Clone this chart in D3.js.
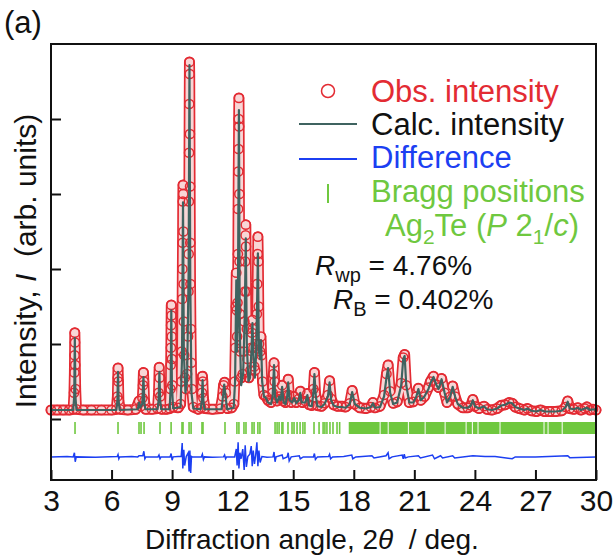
<!DOCTYPE html>
<html><head><meta charset="utf-8">
<script src="https://cdn.jsdelivr.net/npm/d3@7"></script>
<style>
html,body{margin:0;padding:0;background:#fff;}
svg text{font-family:"Liberation Sans",Arial,Helvetica,sans-serif;}
</style></head>
<body><svg id="c" width="614" height="560"></svg>
<script>
// x ticks (2θ, deg) and y ticks (arb. units, unlabeled)
const xTicks = [3, 6, 9, 12, 15, 18, 21, 24, 27, 30];
const yTicks = [0, 1, 2, 3, 4];

// Calculated profile [2θ, I]
const calc = [[3.0,0.12],[4.10,0.12],[4.15,0.30],[4.18,1.08],[4.21,0.30],[4.26,0.12],
[6.24,0.12],[6.29,0.25],[6.32,0.63],[6.35,0.25],[6.40,0.12],
[7.30,0.13],[7.36,0.22],[7.42,0.15],[7.52,0.2],[7.58,0.56],[7.63,0.2],[7.68,0.13],
[8.28,0.13],[8.33,0.25],[8.37,0.63],[8.41,0.25],[8.46,0.13],
[8.88,0.13],[8.93,0.45],[8.96,1.45],[8.99,0.45],[9.05,0.14],
[9.42,0.16],[9.49,0.8],[9.54,2.89],[9.58,0.9],[9.66,0.35],[9.74,0.5],[9.82,2.0],[9.86,4.72],[9.90,1.8],[9.96,0.35],[10.05,0.14],
[10.42,0.13],[10.47,0.25],[10.51,0.52],[10.55,0.25],[10.60,0.13],
[11.45,0.13],[11.52,0.3],[11.58,0.46],[11.65,0.30],[11.72,0.13],
[12.05,0.15],[12.12,0.5],[12.18,1.85],[12.22,0.9],[12.26,1.6],[12.31,4.12],[12.35,1.2],[12.42,0.45],[12.52,0.6],[12.6,1.4],[12.65,2.41],[12.70,1.0],[12.78,0.5],[12.86,0.55],[12.93,0.9],[12.98,1.28],[13.03,0.85],[13.1,0.55],[13.17,0.9],[13.25,2.21],[13.30,0.9],[13.36,0.8],[13.41,1.05],[13.46,0.5],[13.55,0.3],[13.65,0.28],[13.75,0.22],[13.9,0.2],
[13.98,0.3],[14.05,0.72],[14.1,0.3],[14.2,0.22],[14.3,0.3],[14.38,0.25],[14.45,0.43],[14.52,0.22],[14.62,0.2],[14.7,0.3],[14.75,0.49],[14.82,0.25],[14.95,0.22],[15.05,0.28],[15.15,0.21],[15.28,0.25],[15.35,0.35],[15.42,0.22],[15.6,0.22],[15.7,0.32],[15.78,0.18],[15.92,0.17],[16.0,0.35],[16.05,0.6],[16.12,0.3],[16.2,0.17],[16.4,0.16],[16.55,0.2],[16.72,0.3],[16.8,0.49],[16.88,0.25],[17.0,0.18],[17.2,0.16],[17.4,0.16],[17.6,0.15],[17.8,0.2],[17.92,0.36],[18.05,0.2],[18.3,0.15],[18.6,0.14],[18.85,0.16],[18.95,0.21],[19.05,0.15],[19.3,0.16],[19.5,0.3],[19.62,0.55],[19.7,0.68],[19.8,0.35],[19.95,0.2],[20.15,0.22],[20.35,0.45],[20.45,0.8],[20.52,0.84],[20.6,0.45],[20.75,0.22],[20.95,0.22],[21.1,0.3],[21.2,0.40],[21.32,0.25],[21.5,0.3],[21.7,0.4],[21.8,0.48],[21.95,0.56],[22.1,0.45],[22.2,0.40],[22.35,0.53],[22.5,0.35],[22.62,0.22],[22.78,0.3],[22.9,0.43],[23.02,0.3],[23.15,0.2],[23.4,0.15],[23.65,0.15],[23.8,0.18],[23.9,0.25],[24.0,0.17],[24.2,0.14],[24.45,0.17],[24.6,0.13],[24.85,0.12],[25.1,0.14],[25.3,0.18],[25.5,0.19],[25.7,0.22],[25.85,0.21],[26.0,0.16],[26.2,0.14],[26.45,0.12],[26.6,0.14],[26.8,0.11],[27.05,0.1],[27.25,0.12],[27.45,0.1],[27.7,0.1],[28.0,0.1],[28.3,0.11],[28.5,0.16],[28.6,0.23],[28.7,0.14],[28.9,0.13],[29.1,0.15],[29.25,0.12],[29.45,0.14],[29.55,0.15],[29.7,0.12],[29.85,0.13],[30.0,0.12]];

// Observed points [2θ, I]
const obs = [[3.0,0.12],[3.3,0.12],[3.6,0.12],[3.9,0.12],[4.10,0.13],[4.14,0.35],[4.16,0.62],[4.17,0.85],[4.18,1.15],[4.19,1.02],[4.20,0.72],[4.22,0.4],[4.26,0.13],[4.6,0.12],[5.0,0.12],[5.5,0.12],[6.0,0.12],[6.24,0.13],[6.29,0.3],[6.31,0.55],[6.32,0.68],[6.34,0.5],[6.36,0.25],[6.42,0.13],[6.8,0.12],[7.2,0.13],[7.36,0.24],[7.45,0.17],[7.53,0.28],[7.56,0.45],[7.58,0.62],[7.60,0.5],[7.63,0.24],[7.7,0.13],[8.0,0.13],[8.28,0.14],[8.33,0.35],[8.36,0.69],[8.38,0.55],[8.41,0.3],[8.47,0.13],[8.7,0.13],[8.88,0.14],[8.92,0.4],[8.93,0.72],[8.94,0.95],[8.95,1.25],[8.96,1.52],[8.97,1.38],[8.98,1.1],[8.99,0.8],[9.01,0.45],[9.05,0.16],[9.3,0.15],[9.42,0.2],[9.46,0.5],[9.48,0.9],[9.5,1.6],[9.51,2.0],[9.52,2.35],[9.53,2.9],[9.54,3.12],[9.55,3.0],[9.56,2.5],[9.57,1.8],[9.58,1.3],[9.6,0.85],[9.63,0.55],[9.68,0.4],[9.74,0.6],[9.79,1.1],[9.81,1.7],[9.82,2.2],[9.83,2.9],[9.84,3.55],[9.85,4.2],[9.86,4.76],[9.87,4.6],[9.88,3.8],[9.89,3.1],[9.9,2.35],[9.91,1.8],[9.93,1.2],[9.95,0.75],[9.98,0.4],[10.05,0.16],[10.3,0.13],[10.44,0.15],[10.48,0.35],[10.5,0.57],[10.52,0.5],[10.55,0.28],[10.62,0.14],[11.0,0.13],[11.4,0.14],[11.5,0.3],[11.55,0.45],[11.6,0.49],[11.66,0.35],[11.74,0.14],[11.95,0.15],[12.06,0.2],[12.1,0.5],[12.13,0.95],[12.16,1.5],[12.18,1.95],[12.2,1.45],[12.22,1.1],[12.24,1.55],[12.26,2.2],[12.27,2.8],[12.28,3.3],[12.29,3.6],[12.3,4.0],[12.31,4.28],[12.32,3.9],[12.33,3.0],[12.34,2.1],[12.36,1.4],[12.38,0.9],[12.42,0.55],[12.5,0.6],[12.55,0.9],[12.58,1.3],[12.6,1.7],[12.62,2.1],[12.64,2.45],[12.65,2.59],[12.66,2.3],[12.68,1.7],[12.7,1.2],[12.73,0.8],[12.8,0.55],[12.88,0.65],[12.92,0.95],[12.95,1.15],[12.98,1.32],[13.0,1.2],[13.03,0.95],[13.07,0.7],[13.12,0.65],[13.17,1.0],[13.2,1.4],[13.22,1.8],[13.24,2.2],[13.25,2.43],[13.27,2.1],[13.29,1.5],[13.31,1.0],[13.36,0.9],[13.4,1.1],[13.43,0.85],[13.48,0.5],[13.55,0.32],[13.65,0.3],[13.75,0.25],[13.9,0.22],[13.98,0.35],[14.02,0.6],[14.05,0.75],[14.08,0.5],[14.12,0.28],[14.2,0.24],[14.3,0.3],[14.38,0.27],[14.45,0.45],[14.52,0.24],[14.62,0.22],[14.7,0.32],[14.75,0.53],[14.8,0.32],[14.9,0.22],[15.05,0.3],[15.15,0.22],[15.28,0.27],[15.35,0.37],[15.45,0.22],[15.6,0.24],[15.7,0.34],[15.8,0.19],[15.92,0.18],[16.0,0.4],[16.05,0.62],[16.1,0.35],[16.2,0.18],[16.4,0.17],[16.55,0.21],[16.72,0.32],[16.8,0.51],[16.88,0.27],[17.0,0.19],[17.2,0.17],[17.4,0.17],[17.6,0.16],[17.8,0.21],[17.92,0.38],[18.05,0.2],[18.3,0.15],[18.6,0.14],[18.85,0.16],[18.95,0.22],[19.05,0.15],[19.3,0.17],[19.5,0.32],[19.62,0.6],[19.7,0.72],[19.8,0.37],[19.95,0.21],[20.15,0.23],[20.35,0.48],[20.45,0.82],[20.52,0.86],[20.6,0.45],[20.75,0.22],[20.95,0.23],[21.1,0.3],[21.2,0.41],[21.32,0.25],[21.5,0.3],[21.7,0.42],[21.8,0.5],[21.95,0.57],[22.1,0.46],[22.2,0.42],[22.35,0.54],[22.5,0.35],[22.62,0.22],[22.78,0.3],[22.9,0.44],[23.02,0.3],[23.15,0.2],[23.4,0.15],[23.65,0.15],[23.8,0.18],[23.9,0.26],[24.0,0.17],[24.2,0.14],[24.45,0.17],[24.6,0.13],[24.85,0.12],[25.1,0.14],[25.3,0.18],[25.5,0.19],[25.7,0.22],[25.85,0.21],[26.0,0.16],[26.2,0.14],[26.45,0.12],[26.6,0.14],[26.8,0.11],[27.05,0.1],[27.25,0.12],[27.45,0.1],[27.7,0.1],[28.0,0.1],[28.3,0.11],[28.5,0.16],[28.6,0.24],[28.7,0.14],[28.9,0.13],[29.1,0.15],[29.25,0.12],[29.45,0.14],[29.55,0.16],[29.7,0.12],[29.85,0.13],[30.0,0.12]];

// Difference curve (offset) [2θ, I]
const diff = [[3.0,-0.505],[3.8,-0.50],[4.1,-0.505],[4.16,-0.45],[4.2,-0.57],[4.25,-0.505],[5.2,-0.51],[6.28,-0.50],[6.32,-0.475],[6.36,-0.53],[6.4,-0.505],[7.0,-0.50],[7.3,-0.505],[7.36,-0.49],[7.55,-0.49],[7.6,-0.43],[7.65,-0.53],[7.7,-0.505],[8.3,-0.505],[8.35,-0.48],[8.4,-0.53],[8.45,-0.505],[8.9,-0.505],[8.95,-0.46],[9.0,-0.55],[9.05,-0.505],[9.3,-0.5],[9.45,-0.50],[9.5,-0.32],[9.53,-0.66],[9.58,-0.41],[9.62,-0.62],[9.7,-0.50],[9.8,-0.45],[9.84,-0.70],[9.88,-0.42],[9.92,-0.72],[9.96,-0.5],[10.0,-0.505],[10.45,-0.505],[10.5,-0.47],[10.55,-0.54],[10.6,-0.505],[11.0,-0.51],[11.55,-0.505],[11.6,-0.48],[11.65,-0.53],[11.7,-0.505],[12.1,-0.505],[12.18,-0.40],[12.22,-0.62],[12.27,-0.31],[12.31,-0.66],[12.36,-0.45],[12.42,-0.53],[12.5,-0.40],[12.57,-0.68],[12.62,-0.35],[12.68,-0.64],[12.75,-0.50],[12.85,-0.47],[12.92,-0.36],[12.97,-0.63],[13.02,-0.42],[13.08,-0.60],[13.14,-0.48],[13.2,-0.31],[13.25,-0.63],[13.3,-0.42],[13.36,-0.58],[13.45,-0.5],[13.7,-0.51],[14.0,-0.505],[14.05,-0.44],[14.1,-0.57],[14.15,-0.505],[14.45,-0.48],[14.5,-0.53],[14.7,-0.505],[14.75,-0.45],[14.8,-0.56],[14.9,-0.505],[15.3,-0.49],[15.35,-0.53],[15.5,-0.505],[16.0,-0.505],[16.05,-0.46],[16.1,-0.54],[16.2,-0.505],[16.75,-0.50],[16.8,-0.47],[16.85,-0.53],[16.95,-0.505],[17.5,-0.50],[17.9,-0.48],[17.95,-0.53],[18.1,-0.505],[18.9,-0.49],[19.0,-0.52],[19.6,-0.49],[19.7,-0.45],[19.75,-0.53],[19.9,-0.505],[20.4,-0.48],[20.45,-0.53],[20.5,-0.47],[20.55,-0.52],[20.7,-0.505],[21.2,-0.49],[21.3,-0.52],[21.9,-0.48],[22.0,-0.53],[22.3,-0.49],[22.4,-0.52],[22.9,-0.49],[23.0,-0.52],[23.9,-0.49],[24.5,-0.50],[25.0,-0.50],[25.85,-0.53],[26.0,-0.505],[27.0,-0.505],[28.6,-0.49],[28.7,-0.515],[30.0,-0.505]];

// Bragg reflection positions (2θ) and densely packed ranges
const bragg = [4.19,6.32,7.36,7.46,7.61,8.40,8.95,9.49,9.54,9.84,9.94,10.48,10.53,11.62,12.21,12.31,12.56,12.66,12.96,13.06,13.25,13.35,14.10,14.20,14.30,14.44,14.49,14.74,14.94,15.04,15.19,15.34,15.48,15.58,16.03,16.28,16.48,16.57,16.67,16.82,16.97,17.17,17.30];
const braggBlocks = [[17.75,19.28],[19.33,19.68],[19.73,20.68],[20.73,21.51],[21.56,22.50],[22.55,23.54],[23.59,23.85],[23.90,24.13],[24.18,25.22],[25.27,27.40],[27.45,27.60],[27.65,28.30],[28.35,30.0]];

const C_OBS = "#e32b33", C_CALC = "#3f6360", C_DIFF = "#1c3ff2", C_BRAGG = "#6fc83f";

const svg = d3.select("#c");
const L = 51, R = 596, T = 44, B = 480;
const x = d3.scaleLinear().domain([3, 30]).range([L, R]);
const y = d3.scaleLinear().domain([-0.8133, 5]).range([B, T]);

const line = d3.line().x(d => x(d[0])).y(d => y(d[1]));

// observed band + circles
svg.append("path").datum(obs).attr("d", line).attr("fill", "none")
  .attr("stroke", C_OBS).attr("stroke-width", 11).attr("stroke-linejoin", "round").attr("stroke-linecap", "round");
svg.append("path").datum(obs).attr("d", line).attr("fill", "none")
  .attr("stroke", "#f8d6d6").attr("stroke-width", 7.6).attr("stroke-linejoin", "round").attr("stroke-linecap", "round");
svg.append("g").selectAll("circle").data(obs).join("circle")
  .attr("cx", d => x(d[0])).attr("cy", d => y(d[1])).attr("r", 4.6)
  .attr("fill", "none").attr("stroke", C_OBS).attr("stroke-width", 1.5);

// calc
svg.append("path").datum(calc).attr("d", line).attr("fill", "none")
  .attr("stroke", C_CALC).attr("stroke-width", 2.2).attr("stroke-linejoin", "round");

// bragg
const by0 = 422, by1 = 434;
svg.append("g").selectAll("line").data(bragg).join("line")
  .attr("x1", d => x(d)).attr("x2", d => x(d)).attr("y1", by0).attr("y2", by1)
  .attr("stroke", C_BRAGG).attr("stroke-width", 1.6);
svg.append("g").selectAll("rect").data(braggBlocks).join("rect")
  .attr("x", d => x(d[0])).attr("width", d => x(d[1]) - x(d[0])).attr("y", by0).attr("height", by1 - by0)
  .attr("fill", C_BRAGG);

// diff
svg.append("path").datum(diff).attr("d", line).attr("fill", "none")
  .attr("stroke", C_DIFF).attr("stroke-width", 1.5);

// frame
svg.append("rect").attr("x", L).attr("y", T).attr("width", R - L).attr("height", B - T)
  .attr("fill", "none").attr("stroke", "#111").attr("stroke-width", 2);

// axes
const xAxis = d3.axisBottom(x).tickValues(xTicks).tickSize(-10).tickPadding(10).tickFormat(d3.format("d"));
const gx = svg.append("g").attr("transform", `translate(0,${B})`).call(xAxis);
gx.select(".domain").remove();
gx.selectAll(".tick line").attr("stroke", "#111").attr("stroke-width", 2);
gx.selectAll(".tick text").attr("font-size", 30).attr("fill", "#111").attr("dy", "0.71em");

const yAxis = d3.axisLeft(y).tickValues(yTicks).tickSize(-10).tickFormat("");
const gy = svg.append("g").attr("transform", `translate(${L},0)`).call(yAxis);
gy.select(".domain").remove();
gy.selectAll(".tick line").attr("stroke", "#111").attr("stroke-width", 2);

// axis labels
const xl = svg.append("text").attr("x", 312).attr("y", 549).attr("text-anchor", "middle")
  .attr("font-size", 28).attr("fill", "#111");
xl.append("tspan").text("Diffraction angle, 2");
xl.append("tspan").attr("font-style", "italic").text("θ");
xl.append("tspan").text("\u00a0 / deg.");

const yl = svg.append("text").attr("transform", "translate(36,261) rotate(-90)").attr("text-anchor", "middle")
  .attr("font-size", 30).attr("fill", "#111");
yl.append("tspan").text("Intensity, ");
yl.append("tspan").attr("font-style", "italic").text("I");
yl.append("tspan").text("\u00a0 (arb. units)");

svg.append("text").attr("x", 4).attr("y", 33).attr("font-size", 31).attr("fill", "#111").text("(a)");

// legend
const FS = 31, SUB = 21;
const lg = svg.append("g");
lg.append("circle").attr("cx", 328).attr("cy", 91).attr("r", 6.5).attr("fill", "none").attr("stroke", C_OBS).attr("stroke-width", 1.5);
lg.append("text").attr("x", 371).attr("y", 102).attr("font-size", FS).attr("fill", C_OBS).text("Obs. intensity");
lg.append("line").attr("x1", 299).attr("x2", 357).attr("y1", 124).attr("y2", 124).attr("stroke", C_CALC).attr("stroke-width", 2);
lg.append("text").attr("x", 371).attr("y", 135).attr("font-size", FS).attr("fill", "#111").text("Calc. intensity");
lg.append("line").attr("x1", 299).attr("x2", 357).attr("y1", 159).attr("y2", 159).attr("stroke", C_DIFF).attr("stroke-width", 2);
lg.append("text").attr("x", 371).attr("y", 168).attr("font-size", FS).attr("fill", C_DIFF).text("Difference");
lg.append("line").attr("x1", 328).attr("x2", 328).attr("y1", 184).attr("y2", 203).attr("stroke", C_BRAGG).attr("stroke-width", 2);
lg.append("text").attr("x", 371).attr("y", 202).attr("font-size", FS).attr("fill", C_BRAGG).text("Bragg positions");
const ag = lg.append("text").attr("x", 385).attr("y", 236).attr("font-size", FS).attr("fill", C_BRAGG);
ag.append("tspan").text("Ag");
ag.append("tspan").attr("font-size", SUB).attr("dy", 8).text("2");
ag.append("tspan").attr("dy", -8).text("Te (");
ag.append("tspan").attr("font-style", "italic").text("P");
ag.append("tspan").text(" 2");
ag.append("tspan").attr("font-size", SUB).attr("dy", 8).text("1");
ag.append("tspan").attr("dy", -8).text("/");
ag.append("tspan").attr("font-style", "italic").text("c");
ag.append("tspan").text(")");

const r1 = lg.append("text").attr("x", 315).attr("y", 275).attr("font-size", 28).attr("fill", "#111");
r1.append("tspan").attr("font-style", "italic").text("R");
r1.append("tspan").attr("font-size", 20).attr("dy", 7).text("wp");
r1.append("tspan").attr("dy", -7).text(" = 4.76%");
const r2 = lg.append("text").attr("x", 333).attr("y", 309).attr("font-size", 28).attr("fill", "#111");
r2.append("tspan").attr("font-style", "italic").text("R");
r2.append("tspan").attr("font-size", 20).attr("dy", 7).text("B");
r2.append("tspan").attr("dy", -7).text(" = 0.402%");
</script></body></html>
